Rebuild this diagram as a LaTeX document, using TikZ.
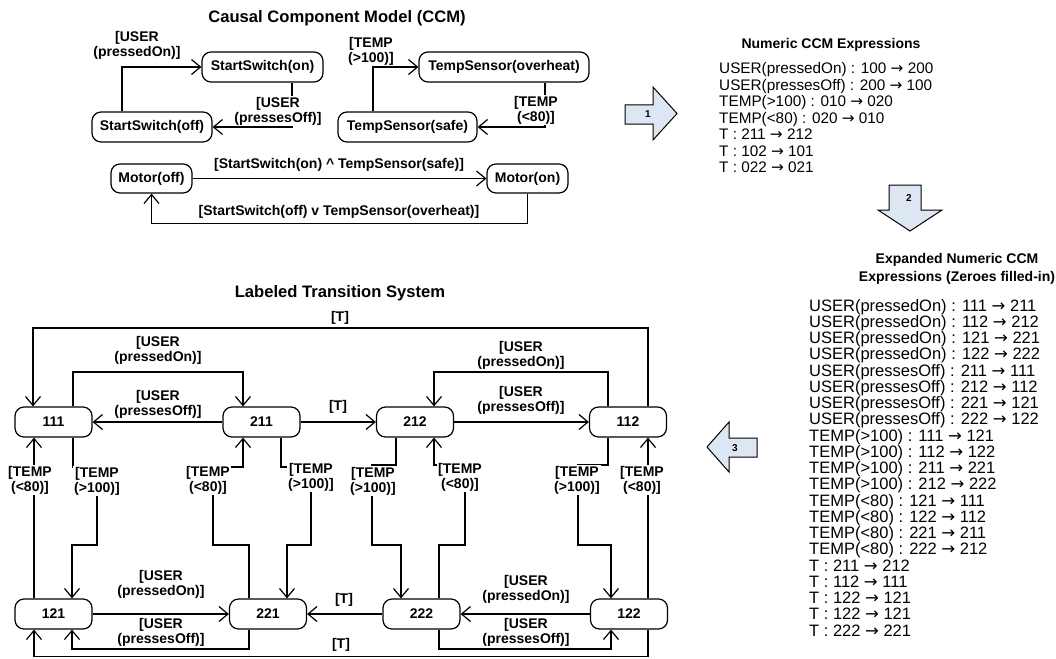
\documentclass[tikz,border=0pt]{standalone}
\usepackage{fontspec}
\setmainfont{Liberation Sans}
\newfontfamily\arrowfont{DejaVu Sans}
\newcommand\myarr{{\arrowfont →}}
\usetikzlibrary{arrows.meta}
\definecolor{blockfill}{RGB}{221,231,243}
\begin{document}
\begin{tikzpicture}[x=1pt,y=-1pt,
 st/.style={draw,line width=1.2pt,rounded corners=9pt,minimum height=30pt,inner sep=0pt,font=\fontsize{14}{15}\selectfont\bfseries},
 conn/.style={line width=1.2pt,-{Straight Barb[length=9pt,width=15pt]}},
 lbl/.style={align=center,inner sep=1pt,font=\fontsize{14}{15}\selectfont\bfseries},
 lblw/.style={lbl,fill=white},
 ttl/.style={align=center,inner sep=0pt,font=\fontsize{16.6}{18}\selectfont\bfseries},
 lst/.style={anchor=base west,inner sep=0pt},
 blk/.style={draw,fill=blockfill,line width=1pt,line join=miter},
 num/.style={inner sep=0pt,font=\fontsize{10}{10}\selectfont\bfseries}]
\fill[white] (0,0) rectangle (1056,658);
\useasboundingbox (0,0) rectangle (1056,658);

% ---------------- CCM ----------------
\node[ttl] (tccm) at (337,18) {Causal Component Model (CCM)};
\node[st,minimum width=121pt] (sOn) at (262.5,67) {StartSwitch(on)};
\node[st,minimum width=120pt] (sOff) at (152,127) {StartSwitch(off)};
\node[st,minimum width=170pt] (tOv) at (504,67) {TempSensor(overheat)};
\node[st,minimum width=139pt] (tSf) at (407.5,127) {TempSensor(safe)};
\node[st,minimum width=81pt,minimum height=29pt] (mOff) at (151.5,178.5) {Motor(off)};
\node[st,minimum width=81pt,minimum height=29pt] (mOn) at (527.5,178.5) {Motor(on)};

\draw[conn] ([xshift=-30pt]sOff.north) |- (sOn.west);
\node[lbl] (c1) at (137,45) {[USER\\(pressedOn)]};
\draw[conn] ([xshift=29.5pt]sOn.south) |- (sOff.east);
\node[lblw] (c2) at (278,111) {[USER\\(pressesOff)]};
\draw[conn] ([xshift=-34.5pt]tSf.north) |- (tOv.west);
\node[lbl] (c3) at (371,51) {[TEMP\\(>100)]};
\draw[conn] ([xshift=41pt]tOv.south) |- (tSf.east);
\node[lblw] (c4) at (536,110) {[TEMP\\(<80)]};
\draw[conn] (mOff) -- (mOn);
\node[lbl] (c5) at (339,165) {[StartSwitch(on) \textasciicircum{} TempSensor(safe)]};
\draw[conn] (mOn.south) -- ++(0,30) -| (mOff.south);
\node[lbl] (c6) at (339,212) {[StartSwitch(off) v TempSensor(overheat)]};

% ---------------- block arrows ----------------
\draw[blk] (625,105) -- (653,105) -- (653,87) -- (677,113.5) -- (653,140) -- (653,124) -- (625,124) -- cycle;
\node[num] (a1) at (648,114) {1};
\draw[blk] (889,185) -- (921,185) -- (921,210) -- (942,210) -- (910,231) -- (878,210) -- (889,210) -- cycle;
\node[num] (a2) at (909,198) {2};
\draw[blk] (757,438) -- (729,438) -- (729,422) -- (707,447) -- (729,472) -- (729,457) -- (757,457) -- cycle;
\node[num] (a3) at (735,448) {3};

% ---------------- Numeric CCM ----------------
\node[align=center,inner sep=0pt,font=\fontsize{14}{16}\selectfont\bfseries] (tnum) at (831,45) {Numeric CCM Expressions};
\foreach \t [count=\i] in {{USER(pressedOn) : 100 \myarr{} 200},{USER(pressesOff) : 200 \myarr{} 100},{TEMP(>100) : 010 \myarr{} 020},{TEMP(<80) : 020 \myarr{} 010},{T : 211 \myarr{} 212},{T : 102 \myarr{} 101},{T : 022 \myarr{} 021}}
  \node[lst,font=\fontsize{15.3}{15}\selectfont] (nl\i) at (719,{74+(\i-1)*16.4}) {\t};

% ---------------- Expanded ----------------
\node[align=center,inner sep=0pt,font=\fontsize{14}{18}\selectfont\bfseries] (texp) at (957,269) {Expanded Numeric CCM\\Expressions (Zeroes filled-in)};
\foreach \t [count=\i] in {{USER(pressedOn) : 111 \myarr{} 211},{USER(pressedOn) : 112 \myarr{} 212},{USER(pressedOn) : 121 \myarr{} 221},{USER(pressedOn) : 122 \myarr{} 222},{USER(pressesOff) : 211 \myarr{} 111},{USER(pressesOff) : 212 \myarr{} 112},{USER(pressesOff) : 221 \myarr{} 121},{USER(pressesOff) : 222 \myarr{} 122},{TEMP(>100) : 111 \myarr{} 121},{TEMP(>100) : 112 \myarr{} 122},{TEMP(>100) : 211 \myarr{} 221},{TEMP(>100) : 212 \myarr{} 222},{TEMP(<80) : 121 \myarr{} 111},{TEMP(<80) : 122 \myarr{} 112},{TEMP(<80) : 221 \myarr{} 211},{TEMP(<80) : 222 \myarr{} 212},{T : 211 \myarr{} 212},{T : 112 \myarr{} 111},{T : 122 \myarr{} 121},{T : 122 \myarr{} 121},{T : 222 \myarr{} 221}}
  \node[lst,font=\fontsize{16.5}{16}\selectfont] (el\i) at (809,{311+(\i-1)*16.25}) {\t};

% ---------------- LTS ----------------
\node[ttl] (tlts) at (340,293) {Labeled Transition System};
\node[st,minimum width=77pt] (n111) at (53.5,422) {111};
\node[st,minimum width=77pt] (n211) at (261.5,422) {211};
\node[st,minimum width=77pt] (n212) at (415,422) {212};
\node[st,minimum width=77pt] (n112) at (628,422) {112};
\node[st,minimum width=77pt] (n121) at (53.5,614) {121};
\node[st,minimum width=77pt] (n221) at (268,614) {221};
\node[st,minimum width=77pt] (n222) at (421.5,614) {222};
\node[st,minimum width=77pt] (n122) at (629,614) {122};

% top row
\draw[conn] ([xshift=19.5pt]n111.north) |- (243,372) -- ([xshift=-18.5pt]n211.north);
\node[lbl] (l1) at (158,350) {[USER\\(pressedOn)]};
\draw[conn] (n211.west) -- (n111.east);
\node[lbl] (l2) at (158,404.5) {[USER\\(pressesOff)]};
\draw[conn] (n211.east) -- (n212.west);
\node[lbl] (l3) at (338,407) {[T]};
\draw[conn] (n212.east) -- (n112.west);
\node[lbl] (l4) at (521,400) {[USER\\(pressesOff)]};
\draw[conn] ([xshift=-20pt]n112.north) |- (434,372) -- ([xshift=19pt]n212.north);
\node[lbl] (l5) at (521,355) {[USER\\(pressedOn)]};
\draw[conn] ([xshift=20pt]n112.north) |- (33,328) -- ([xshift=-20.5pt]n111.north);
\node[lbl] (l6) at (340,318) {[T]};

% between rows
\draw[conn] ([xshift=-19.5pt]n121.north) -- ([xshift=-19.5pt]n111.south);
\node[lblw] (l7) at (30,480) {[TEMP\\(<80)]};
\draw[conn] ([xshift=19.5pt]n111.south) |- (97,467) |- (72,545) -- ([xshift=18.5pt]n121.north);
\node[lblw] (l8) at (97,481) {[TEMP\\(>100)]};
\draw[conn] ([xshift=-19pt]n221.north) |- (213,545) |- (243,467) -- ([xshift=-18.5pt]n211.south);
\node[lblw] (l9) at (208,480) {[TEMP\\(<80)]};
\draw[conn] ([xshift=19.5pt]n211.south) |- (311,467) |- (287,545) -- ([xshift=19pt]n221.north);
\node[lblw] (l10) at (311,477) {[TEMP\\(>100)]};
\draw[conn] ([xshift=-19pt]n212.south) |- (372,465) |- (401,545) -- ([xshift=-20.5pt]n222.north);
\node[lblw] (l11) at (373,481) {[TEMP\\(>100)]};
\draw[conn] ([xshift=17.5pt]n222.north) |- (465,545) |- (434,465) -- ([xshift=19pt]n212.south);
\node[lblw] (l12) at (460,477) {[TEMP\\(<80)]};
\draw[conn] ([xshift=-20pt]n112.south) |- (578,465) |- (611,545) -- ([xshift=-18pt]n122.north);
\node[lblw] (l13) at (577,480) {[TEMP\\(>100)]};
\draw[conn] ([xshift=19pt]n122.north) -- ([xshift=20pt]n112.south);
\node[lblw] (l14) at (642,480) {[TEMP\\(<80)]};

% bottom row
\draw[conn] (n121.east) -- (n221.west);
\node[lbl] (l15) at (161,584.5) {[USER\\(pressedOn)]};
\draw[conn] ([xshift=-19pt]n221.south) |- (72,649) -- ([xshift=18.5pt]n121.south);
\node[lbl] (l16) at (161,632) {[USER\\(pressesOff)]};
\draw[conn] (n222.west) -- (n221.east);
\node[lbl] (l17) at (344,600) {[T]};
\draw[conn] (n122.west) -- (n222.east);
\node[lbl] (l18) at (526,589.5) {[USER\\(pressedOn)]};
\draw[conn] ([xshift=17.5pt]n222.south) |- (611,649) -- ([xshift=-18pt]n122.south);
\node[lbl] (l19) at (526,632) {[USER\\(pressesOff)]};
\draw[conn] ([xshift=19pt]n122.south) |- (34,656.5) -- ([xshift=-19.5pt]n121.south);
\node[lbl] (l20) at (341,645) {[T]};
\end{tikzpicture}
\end{document}
